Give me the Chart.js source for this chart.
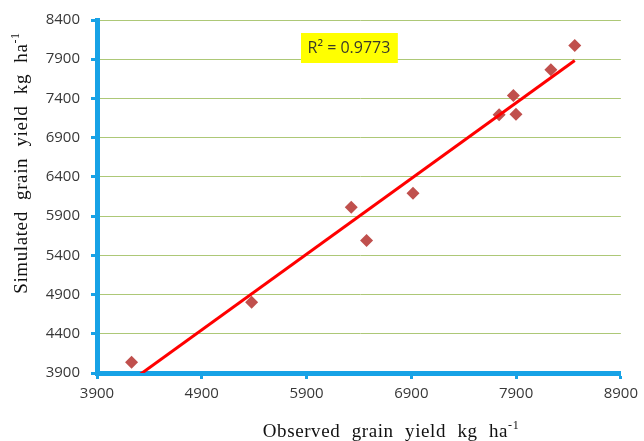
<!DOCTYPE html>
<html lang="en">
<head>
  <meta charset="UTF-8">
  <title>Observed vs Simulated Grain Yield</title>
  <script src="https://cdn.jsdelivr.net/npm/chart.js"></script>
  <style>
    body { margin: 0; background: #fff; }
  </style>
</head>
<body>
  <canvas id="yieldChart" width="644" height="441"></canvas>

  <script>
    // observed (x) vs simulated (y) grain yield, kg/ha
    const observed  = [4230, 5376, 6327, 6473, 6916, 7738, 7874, 7899, 8232, 8460];
    const simulated = [4036, 4802, 6013, 5588, 6192, 7191, 7437, 7200, 7765, 8075];

    const xTicks = [3900, 4900, 5900, 6900, 7900, 8900];
    const yTicks = [3900, 4400, 4900, 5400, 5900, 6400, 6900, 7400, 7900, 8400];

    const r2Text = "R\u00b2 = 0.9773";
    const r2Anchor = { x: 6305, y: 8045 }; // where the label box sits, in data units

    const axisBlue = "#17a2e6";
    const gridGreen = "#adc877";
    const tickFont = { family: "Open Sans", size: 15 };

    // least squares trend line, drawn over the range of observed values
    function linearFit(xs, ys) {
      const n = xs.length;
      const mx = xs.reduce((a, b) => a + b, 0) / n;
      const my = ys.reduce((a, b) => a + b, 0) / n;
      let sxy = 0, sxx = 0;
      for (let i = 0; i < n; i++) {
        sxy += (xs[i] - mx) * (ys[i] - my);
        sxx += (xs[i] - mx) * (xs[i] - mx);
      }
      const slope = sxy / sxx;
      return { slope, intercept: my - slope * mx };
    }

    const fit = linearFit(observed, simulated);
    const xLo = Math.min(...observed), xHi = Math.max(...observed);
    const trend = [xLo, xHi].map(x => ({ x, y: fit.intercept + fit.slope * x }));
    const points = observed.map((x, i) => ({ x, y: simulated[i] }));

    function drawSupTitle(ctx, text, sup, cx, cy, angle) {
      ctx.save();
      ctx.translate(cx, cy);
      ctx.rotate(angle);
      ctx.fillStyle = "#111";
      ctx.textBaseline = "alphabetic";
      ctx.textAlign = "left";
      ctx.font = "19px 'Liberation Serif'";
      ctx.letterSpacing = "0.6px";
      ctx.wordSpacing = "6px";
      const w1 = ctx.measureText(text).width;
      ctx.font = "12px 'Liberation Serif'";
      const w2 = ctx.measureText(sup).width;
      const start = -(w1 + w2) / 2;
      ctx.font = "19px 'Liberation Serif'";
      ctx.fillText(text, start, 0);
      ctx.font = "12px 'Liberation Serif'";
      ctx.fillText(sup, start + w1, -8);
      ctx.restore();
    }

    const extras = {
      id: "extras",
      afterDraw(chart) {
        const ctx = chart.ctx;
        drawSupTitle(ctx, "Observed grain yield kg ha", "-1", 391, 437, 0);
        drawSupTitle(ctx, "Simulated grain yield kg ha", "-1", 27, 163, -Math.PI / 2);

        // R² label box
        const px = chart.scales.x.getPixelForValue(r2Anchor.x);
        const py = chart.scales.y.getPixelForValue(r2Anchor.y);
        ctx.save();
        ctx.font = "16px 'Open Sans'";
        const w = ctx.measureText(r2Text).width + 14;
        const h = 30;
        ctx.fillStyle = "#ffff00";
        ctx.fillRect(Math.round(px - w / 2), Math.round(py - h / 2), w, h);
        ctx.fillStyle = "#3a3a2a";
        ctx.textAlign = "center";
        ctx.textBaseline = "middle";
        ctx.fillText(r2Text, px, py + 1);
        ctx.restore();
      }
    };

    new Chart(document.getElementById("yieldChart"), {
      type: "scatter",
      data: {
        datasets: [
          {
            label: "Linear trend",
            data: trend,
            showLine: true,
            borderColor: "#ff0000",
            borderWidth: 3,
            pointRadius: 0,
            order: 0
          },
          {
            label: "Simulated",
            data: points,
            pointStyle: "rectRot",
            pointRadius: 6.5,
            backgroundColor: "#c0504d",
            borderColor: "#c0504d",
            borderWidth: 0,
            order: 1
          }
        ]
      },
      options: {
        responsive: false,
        animation: false,
        layout: { padding: { left: 0, top: 20, right: 21, bottom: 0 } },
        plugins: {
          legend: { display: false },
          tooltip: { enabled: false }
        },
        scales: {
          x: {
            type: "linear",
            min: 3900,
            max: 8900,
            afterBuildTicks: s => { s.ticks = xTicks.map(v => ({ value: v })); },
            afterFit: s => { s.height = 68; },
            border: { color: axisBlue, width: 5 },
            grid: { drawOnChartArea: false, tickLength: 6, tickWidth: 3, tickColor: axisBlue },
            ticks: { font: tickFont, color: "#383838", padding: 6, maxRotation: 0, callback: v => String(v) }
          },
          y: {
            type: "linear",
            min: 3900,
            max: 8400,
            afterBuildTicks: s => { s.ticks = yTicks.map(v => ({ value: v })); },
            afterFit: s => { s.width = 97; },
            border: { color: axisBlue, width: 5 },
            grid: { color: gridGreen, lineWidth: 1, tickLength: 6, tickWidth: 3, tickColor: axisBlue },
            ticks: { font: tickFont, color: "#383838", padding: 11, callback: v => String(v) }
          }
        }
      },
      plugins: [extras]
    });
  </script>
</body>
</html>
